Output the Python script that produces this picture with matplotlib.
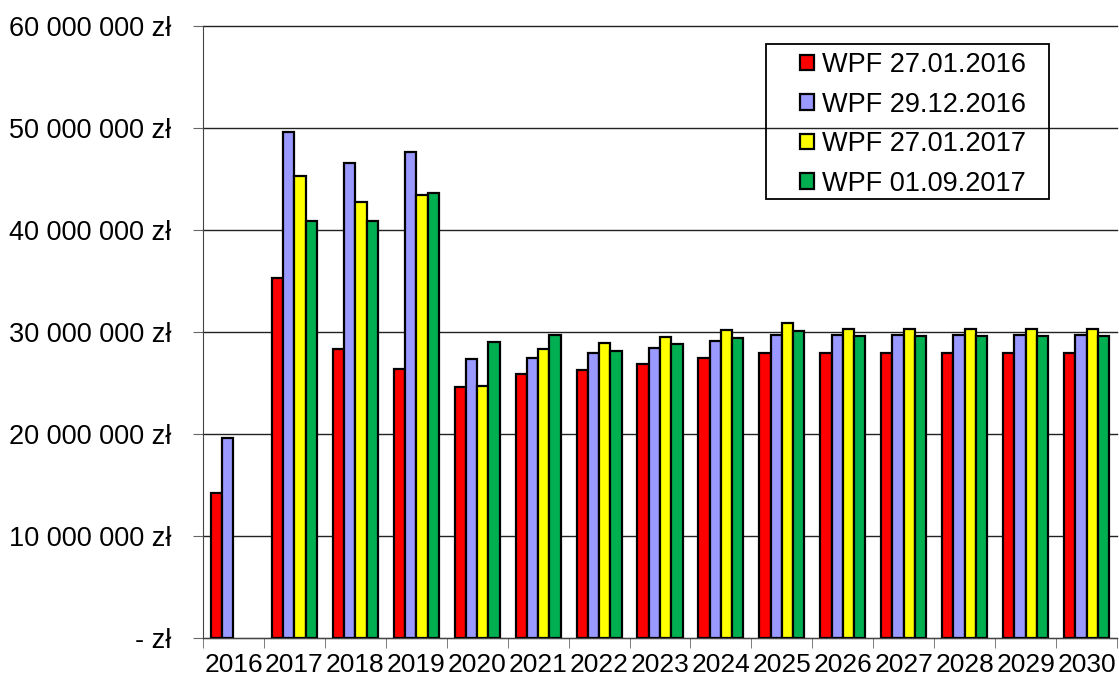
import numpy as np
import matplotlib
matplotlib.use("Agg")
import matplotlib.pyplot as plt
from matplotlib.patches import Rectangle
from matplotlib.ticker import FuncFormatter, FixedLocator

plt.rcParams["font.family"] = ["Liberation Sans", "DejaVu Sans"]

years = ["2016", "2017", "2018", "2019", "2020", "2021", "2022", "2023",
         "2024", "2025", "2026", "2027", "2028", "2029", "2030"]

# values in mln zł
wpf_2016_01 = [14.2, 35.3, 28.4, 26.4, 24.6, 25.9, 26.3, 26.9, 27.5, 28.0, 28.0, 28.0, 28.0, 28.0, 28.0]
wpf_2016_12 = [19.6, 49.6, 46.6, 47.7, 27.4, 27.5, 28.0, 28.5, 29.1, 29.7, 29.7, 29.7, 29.7, 29.7, 29.7]
wpf_2017_01 = [np.nan, 45.3, 42.8, 43.5, 24.7, 28.4, 28.9, 29.5, 30.2, 30.9, 30.3, 30.3, 30.3, 30.3, 30.3]
wpf_2017_09 = [np.nan, 40.9, 40.9, 43.7, 29.0, 29.7, 28.2, 28.8, 29.4, 30.1, 29.6, 29.6, 29.6, 29.6, 29.6]

series = [wpf_2016_01, wpf_2016_12, wpf_2017_01, wpf_2017_09]
labels = ["WPF 27.01.2016", "WPF 29.12.2016", "WPF 27.01.2017", "WPF 01.09.2017"]
colors = ["#FF0000", "#9999FF", "#FFFF00", "#00B050"]

W, H = 1119, 682
fig = plt.figure(figsize=(W / 100, H / 100), dpi=100)
ax = fig.add_axes([203 / W, 1 - 638 / H, (1117 - 203) / W, (638 - 26.5) / H])

x = np.arange(len(years))
w = 0.185
for i, (vals, lab, col) in enumerate(zip(series, labels, colors)):
    ax.bar(x + (i - 1.5) * w, np.array(vals) * 1e6, w, color=col,
           edgecolor="black", linewidth=1.6, label=lab, zorder=3)

ax.set_xlim(-0.5, len(years) - 0.5)
ax.set_ylim(0, 60e6)
ax.set_yticks(np.arange(0, 60e6 + 1, 10e6))


def zl(v, pos):
    if v == 0:
        return "- zł"
    return "{:,.0f}".format(v).replace(",", " ") + " zł"


ax.yaxis.set_major_formatter(FuncFormatter(zl))
ax.grid(axis="y", color="#222222", linewidth=1.0, zorder=0)
for gl in ax.get_ygridlines():
    gl.set_clip_on(False)

ax.set_xticks(x)
ax.set_xticklabels(years)
ax.xaxis.set_minor_locator(FixedLocator(np.arange(-0.5, len(years), 1.0)))
ax.tick_params(axis="x", which="major", length=0, pad=11, labelsize=19)
ax.tick_params(axis="x", which="minor", length=7, color="#666666", direction="out")
ax.tick_params(axis="y", length=7, color="#666666", direction="out", pad=16, labelsize=19.5)

ax.spines["top"].set_visible(False)
ax.spines["right"].set_visible(False)
ax.spines["left"].set_color("#444444")
ax.spines["bottom"].set_color("#444444")

# legend box (transparent, grid shows through)
fig.patches.append(Rectangle((766 / W, 1 - 199 / H), (1049 - 766) / W, (199 - 44) / H,
                             transform=fig.transFigure, fill=False,
                             edgecolor="black", linewidth=1.3, zorder=5))
leg = ax.legend(loc="upper left", bbox_to_anchor=(800 / W, 1 - 52 / H),
                bbox_transform=fig.transFigure,
                fontsize=19.5, frameon=False, borderpad=0, handlelength=0.5,
                handleheight=0.5, handletextpad=0.3, labelspacing=0.5, borderaxespad=0)
leg.set_zorder(5)

fig.savefig("out.png", dpi=100)
